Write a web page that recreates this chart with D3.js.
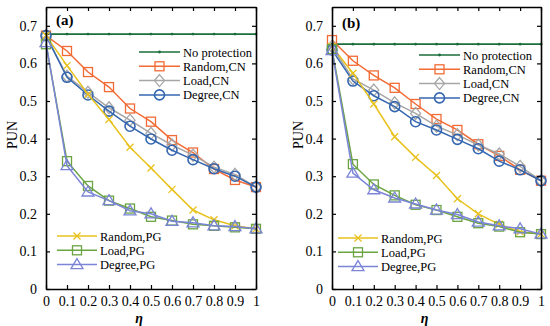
<!DOCTYPE html>
<html lang="en">
<head>
    <meta charset="UTF-8">
    <title>PUN vs eta</title>
    <script src="https://d3js.org/d3.v7.min.js"></script>
    <style>
        body { margin: 0; background: #fff; }
        text { font-family: "Liberation Serif", "Times New Roman", serif; }
    </style>
</head>
<body>
    <script>
        // eta values on the x axis
        let eta = [0, 0.1, 0.2, 0.3, 0.4, 0.5, 0.6, 0.7, 0.8, 0.9, 1];
        let xTicks = [0, 0.1, 0.2, 0.3, 0.4, 0.5, 0.6, 0.7, 0.8, 0.9, 1];
        let yTicks = [0, 0.1, 0.2, 0.3, 0.4, 0.5, 0.6, 0.7];

        let seriesNames = ['No protection', 'Random,CN', 'Load,CN', 'Degree,CN', 'Random,PG', 'Load,PG', 'Degree,PG'];

        // panel (a)
        let aNoProt   = [0.678, 0.678, 0.678, 0.678, 0.678, 0.678, 0.678, 0.678, 0.678, 0.678, 0.678];
        let aRandCN   = [0.674, 0.633, 0.577, 0.537, 0.480, 0.445, 0.396, 0.363, 0.319, 0.290, 0.271];
        let aLoadCN   = [0.674, 0.566, 0.523, 0.482, 0.449, 0.414, 0.383, 0.356, 0.324, 0.305, 0.271];
        let aDegCN    = [0.674, 0.563, 0.516, 0.473, 0.433, 0.399, 0.369, 0.344, 0.320, 0.300, 0.271];
        let aRandPG   = [0.674, 0.594, 0.518, 0.451, 0.377, 0.322, 0.265, 0.210, 0.184, 0.168, 0.160];
        let aLoadPG   = [0.651, 0.340, 0.274, 0.235, 0.214, 0.192, 0.182, 0.172, 0.168, 0.164, 0.160];
        let aDegPG    = [0.655, 0.328, 0.258, 0.235, 0.208, 0.200, 0.180, 0.176, 0.168, 0.166, 0.160];

        // panel (b)
        let bNoProt   = [0.651, 0.651, 0.651, 0.651, 0.651, 0.651, 0.651, 0.651, 0.651, 0.651, 0.651];
        let bRandCN   = [0.662, 0.607, 0.568, 0.535, 0.492, 0.452, 0.423, 0.385, 0.354, 0.317, 0.288];
        let bLoadCN   = [0.645, 0.559, 0.529, 0.495, 0.467, 0.433, 0.410, 0.383, 0.359, 0.326, 0.288];
        let bDegCN    = [0.636, 0.553, 0.514, 0.485, 0.445, 0.423, 0.398, 0.373, 0.340, 0.317, 0.288];
        let bRandPG   = [0.645, 0.574, 0.492, 0.405, 0.350, 0.302, 0.240, 0.200, 0.172, 0.152, 0.146];
        let bLoadPG   = [0.638, 0.332, 0.278, 0.249, 0.224, 0.210, 0.192, 0.175, 0.166, 0.151, 0.146];
        let bDegPG    = [0.634, 0.308, 0.264, 0.242, 0.226, 0.210, 0.198, 0.178, 0.168, 0.160, 0.146];

        let colors = ['#1b6e3a', '#f26b35', '#a6a6a6', '#3567b0', '#e8c21c', '#6aa443', '#7b84d6'];
        let markers = ['dot', 'square', 'diamond', 'circle', 'cross', 'square', 'triangle'];

        let width = 550;
        let height = 326;

        let svg = d3.select('body').append('svg')
            .attr('width', width)
            .attr('height', height);

        function drawMarker(g, type, x, y, color) {
            if (type == 'dot') {
                g.append('circle').attr('cx', x).attr('cy', y).attr('r', 1.4).attr('fill', color);
            } else if (type == 'square') {
                g.append('rect').attr('x', x - 4.5).attr('y', y - 4.5).attr('width', 9).attr('height', 9)
                    .attr('fill', 'none').attr('stroke', color).attr('stroke-width', 1.3);
            } else if (type == 'circle') {
                g.append('circle').attr('cx', x).attr('cy', y).attr('r', 5)
                    .attr('fill', 'none').attr('stroke', color).attr('stroke-width', 1.6);
            } else if (type == 'diamond') {
                g.append('path').attr('d', `M${x},${y-6}L${x+5},${y}L${x},${y+6}L${x-5},${y}Z`)
                    .attr('fill', 'none').attr('stroke', color).attr('stroke-width', 1.3);
            } else if (type == 'triangle') {
                g.append('path').attr('d', `M${x},${y-6}L${x+6},${y+4}L${x-6},${y+4}Z`)
                    .attr('fill', 'none').attr('stroke', color).attr('stroke-width', 1.3);
            } else if (type == 'cross') {
                g.append('path').attr('d', `M${x-3.5},${y-3.5}L${x+3.5},${y+3.5}M${x-3.5},${y+3.5}L${x+3.5},${y-3.5}`)
                    .attr('stroke', color).attr('stroke-width', 1.3);
            }
        }

        function drawPanel(p) {
            let x = d3.scaleLinear().domain([0, 1]).range([p.left, p.right]);
            let y = d3.scaleLinear().domain([0, 0.75]).range([289, 7]);
            let g = svg.append('g');

            p.series.forEach((vals, i) => {
                let line = d3.line().x((d, j) => x(eta[j])).y(d => y(d));
                g.append('path').datum(vals)
                    .attr('d', line)
                    .attr('fill', 'none')
                    .attr('stroke', colors[i])
                    .attr('stroke-width', i == 0 ? 1.8 : 1.5);
                vals.forEach((v, j) => drawMarker(g, markers[i], x(eta[j]), y(v), colors[i]));
            });

            // axes with inward ticks on all four sides
            let fmt = d => d == 0 ? '0' : (d == 1 ? '1' : d3.format('.1f')(d));
            g.append('g').attr('transform', `translate(0,${y(0)})`)
                .call(d3.axisBottom(x).tickValues(xTicks).tickSizeInner(-4).tickSizeOuter(0).tickPadding(7).tickFormat(fmt));
            g.append('g').attr('transform', `translate(${p.left},0)`)
                .call(d3.axisLeft(y).tickValues(yTicks).tickSizeInner(-4).tickSizeOuter(0).tickPadding(9).tickFormat(fmt));
            g.append('g').attr('transform', `translate(0,${y(0.75)})`)
                .call(d3.axisTop(x).tickValues(xTicks).tickSizeInner(-4).tickSizeOuter(0).tickFormat(''));
            g.append('g').attr('transform', `translate(${p.right},0)`)
                .call(d3.axisRight(y).tickValues(yTicks).tickSizeInner(-4).tickSizeOuter(0).tickFormat(''));
            g.selectAll('.domain').attr('stroke', '#000').attr('stroke-width', 1.6);
            g.selectAll('.tick line').attr('stroke', '#000').attr('stroke-width', 1.2);
            g.selectAll('.tick text').attr('font-family', '"Liberation Serif", serif')
                .attr('font-size', 14).attr('fill', '#000');

            // axis titles
            g.append('text')
                .attr('transform', `translate(${p.left - 29},135) rotate(-90)`)
                .attr('text-anchor', 'middle')
                .attr('font-size', 14)
                .text('PUN');
            g.append('text')
                .attr('x', (p.left + p.right) / 2 - 12)
                .attr('y', 323)
                .attr('text-anchor', 'middle')
                .attr('font-size', 14)
                .attr('font-weight', 'bold')
                .attr('font-style', 'italic')
                .text('η');
            g.append('text')
                .attr('x', p.left + 10)
                .attr('y', p.tagY)
                .attr('font-size', 15)
                .attr('font-weight', 'bold')
                .text(p.tag);

            // legends
            function legend(items, lx, ly, lineLen) {
                items.forEach((i, k) => {
                    let yy = ly + k * 14.3;
                    g.append('line').attr('x1', lx).attr('x2', lx + lineLen)
                        .attr('y1', yy).attr('y2', yy)
                        .attr('stroke', colors[i]).attr('stroke-width', 1.5);
                    drawMarker(g, markers[i], lx + lineLen / 2, yy, colors[i]);
                    g.append('text').attr('x', lx + lineLen + 3).attr('y', yy + 4.5)
                        .attr('font-size', 12.5).text(seriesNames[i]);
                });
            }
            legend([0, 1, 2, 3], p.leg1x, p.leg1y, 41);
            legend([4, 5, 6], p.leg2x, p.leg2y, 40);
        }

        drawPanel({
            left: 46, right: 256, tag: '(a)', tagY: 25,
            series: [aNoProt, aRandCN, aLoadCN, aDegCN, aRandPG, aLoadPG, aDegPG],
            leg1x: 139, leg1y: 52, leg2x: 57, leg2y: 236
        });
        drawPanel({
            left: 332, right: 541, tag: '(b)', tagY: 28,
            series: [bNoProt, bRandCN, bLoadCN, bDegCN, bRandPG, bLoadPG, bDegPG],
            leg1x: 419, leg1y: 55, leg2x: 338, leg2y: 238
        });
    </script>
</body>
</html>
